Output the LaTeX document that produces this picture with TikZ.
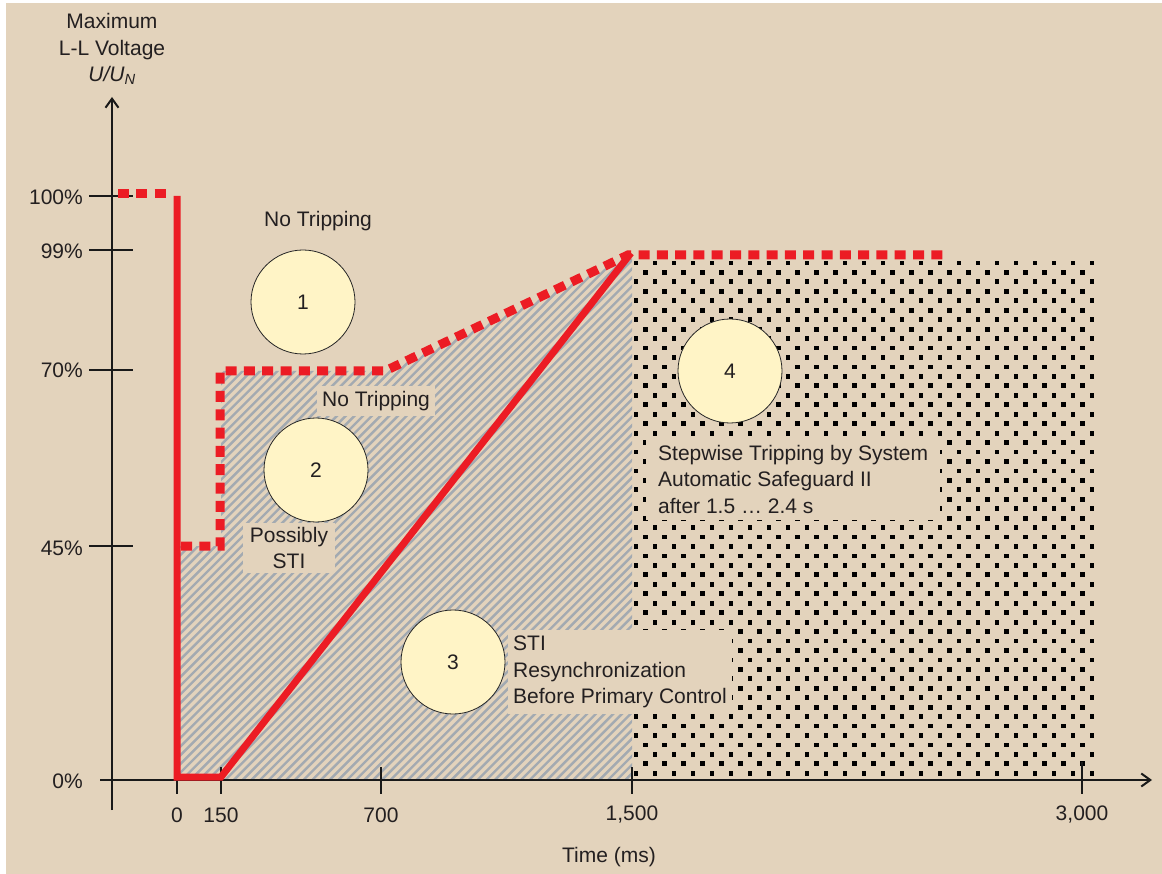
\documentclass[tikz,border=0pt]{standalone}
\usepackage{fontspec}
\setmainfont{Liberation Sans}
\usetikzlibrary{arrows.meta}
\definecolor{bg}{HTML}{E3D3BC}
\definecolor{txt}{HTML}{231F20}
\definecolor{hatchc}{HTML}{A3AAB1}
\definecolor{redc}{HTML}{EC1C24}
\definecolor{circfill}{HTML}{FFF4C6}
\tikzset{
  axisline/.style={line width=2pt, draw=black!90},
  tickline/.style={line width=2pt, draw=black!90},
  redline/.style={line width=7pt, draw=redc, line join=miter, line cap=butt},
  reddash/.style={line width=9pt, draw=redc, dash pattern=on 11pt off 7.3pt, line join=miter},
  circ/.style={circle, draw=black!85, line width=0.8pt, fill=circfill, minimum size=104pt, inner sep=0pt},
  box/.style={fill=bg, inner sep=6pt},
  lab/.style={inner sep=0pt}
}
\begin{document}
\begin{tikzpicture}[x=1pt,y=-1pt, font=\fontsize{21}{26.5}\selectfont, text=txt]
\fill[white] (0,0) rectangle (1162,874);
\fill[bg] (6,3) rectangle (1162,874);
\useasboundingbox (0,0) rectangle (1162,874);

% hatched region
\begin{scope}
\clip (177,546) -- (221,546) -- (221,371) -- (385,371) -- (632,256) -- (632,780) -- (177,780) -- cycle;
\foreach \a in {-620,-611.3,...,640} \draw[hatchc, line width=2.4pt] (\a,790) -- ++(620,-620);
\end{scope}

% dotted region
\begin{scope}
\clip (632,258) rectangle (1096,778);
\foreach \k in {0,...,27} \foreach \i in {0,...,24} \fill[black] ({633.6+19*\i},{260.6+18.9*\k}) rectangle ++(4.8,4.8);
\foreach \k in {0,...,26} \foreach \i in {0,...,23} \fill[black] ({643.1+19*\i},{270.05+18.9*\k}) rectangle ++(4.8,4.8);
\end{scope}

% axes
\coordinate (yb) at (112,810);
\coordinate (yt) at (112,97);
\coordinate (xl) at (100,780);
\coordinate (xr) at (1152,780);
\draw[axisline, -{Straight Barb[length=9pt,width=13pt,line width=2pt]}] (yb) -- (yt);
\draw[axisline, -{Straight Barb[length=9pt,width=13pt,line width=2pt]}] (xl) -- (xr);

% y ticks
\foreach \yy in {196,250,370,546} \draw[tickline] (89,\yy) -- (133,\yy);
\node[lab, anchor=east] (l100) at (83,197) {100\%};
\node[lab, anchor=east] (l99) at (83,251) {99\%};
\node[lab, anchor=east] (l70) at (83,370) {70\%};
\node[lab, anchor=east] (l45) at (83,548) {45\%};
\node[lab, anchor=east] (l0) at (83,781) {0\%};

% x ticks
\draw[tickline] (177,772) -- (177,794);
\draw[tickline] (221,767) -- (221,794);
\draw[tickline] (381,767) -- (381,794);
\draw[tickline] (632,767) -- (632,794);
\draw[tickline] (1082,762) -- (1082,794);
\node[lab] (t0) at (177,815) {0};
\node[lab] (t150) at (221,815) {150};
\node[lab] (t700) at (381,815) {700};
\node[lab] (t1500) at (632,815) {1,500};
\node[lab] (t3000) at (1082,815) {3,000};
\node[lab] (xtitle) at (609,857) {Time (ms)};

% y title
\node[lab, align=center] (ytitle) at (112,49) {Maximum\\L-L Voltage\\\textit{U/U\textsubscript{N}}};

% red curves
\draw[reddash] (118,194) -- (168,194);
\draw[reddash] (181,546) -- (220,546) -- (220,371) -- (385,371) -- (628,255) -- (946,255);
\draw[redline] (177,196) -- (177,777) -- (221,777) -- (631,253);

% text boxes
\node[lab] (nt1) at (318,221) {No Tripping};
\node[box, inner sep=5pt] (nt2) at (376,401) {No Tripping};
\node[box, align=center, inner xsep=7pt, inner ysep=4pt] (ps) at (289,548) {Possibly\\STI};
\node[box, align=left, anchor=north west, inner xsep=5pt, inner ysep=6pt] (sti) at (508,630) {STI\\Resynchronization\\Before Primary Control};
\node[box, align=left, anchor=north west, inner xsep=12pt, inner ysep=6pt] (sw) at (646,439) {Stepwise Tripping by System\\Automatic Safeguard II\\after 1.5 … 2.4 s};

% circles
\node[circ] (c1) at (303,302) {1};
\node[circ] (c2) at (316,470) {2};
\node[circ] (c3) at (453,662) {3};
\node[circ] (c4) at (730,371) {4};
\end{tikzpicture}
\end{document}
